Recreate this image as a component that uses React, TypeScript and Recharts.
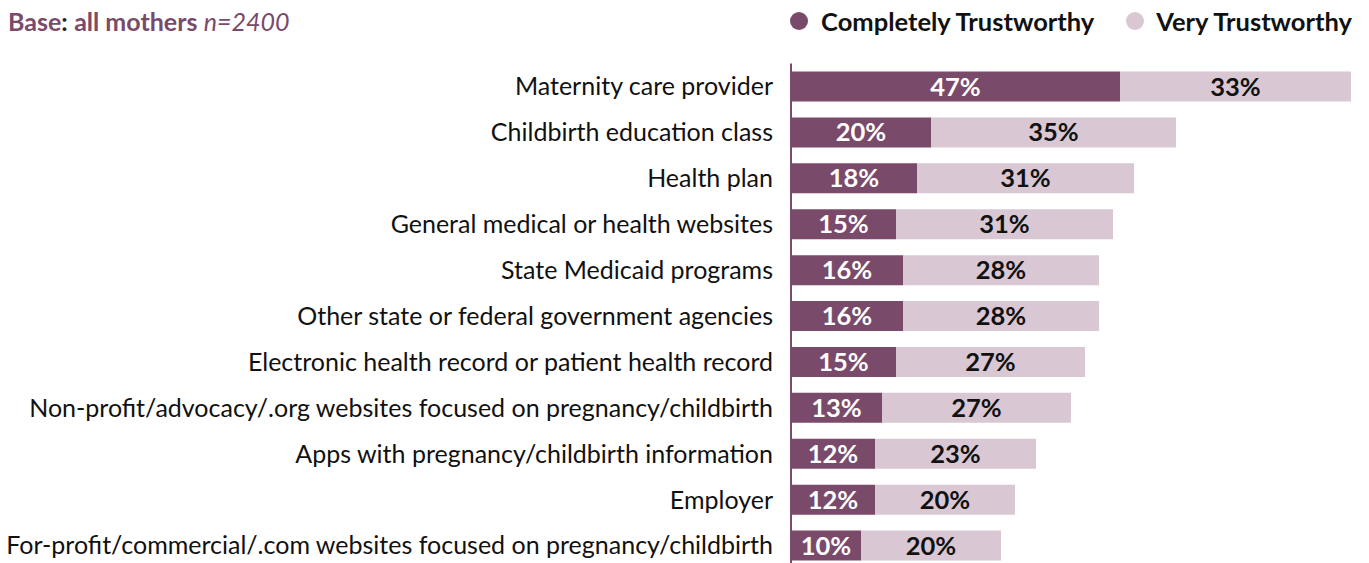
import { BarChart, Bar, XAxis, YAxis, LabelList } from 'recharts';

const sources = [
  'Maternity care provider',
  'Childbirth education class',
  'Health plan',
  'General medical or health websites',
  'State Medicaid programs',
  'Other state or federal government agencies',
  'Electronic health record or patient health record',
  'Non-profit/advocacy/.org websites focused on pregnancy/childbirth',
  'Apps with pregnancy/childbirth information',
  'Employer',
  'For-profit/commercial/.com websites focused on pregnancy/childbirth',
];
const completely = [47, 20, 18, 15, 16, 16, 15, 13, 12, 12, 10];
const very = [33, 35, 31, 31, 28, 28, 27, 27, 23, 20, 20];

const data = sources.map((source, i) => ({
  source,
  completely: completely[i],
  very: very[i],
}));

const DARK = '#7a4a6a';
const LIGHT = '#d9c8d3';
const FONT = "Lato, sans-serif";

const pct = (v: any) => `${v}%`;

export default function App() {
  return (
    <div
      style={{
        position: 'absolute',
        top: 0,
        left: 0,
        width: 1369,
        height: 563,
        overflow: 'hidden',
        background: '#fff',
        fontFamily: FONT,
      }}
    >
      <div
        style={{
          position: 'absolute',
          left: 8,
          top: 6,
          fontSize: 25,
          color: DARK,
          whiteSpace: 'nowrap',
        }}
      >
        <b>Base</b>
        <b style={{ color: '#222' }}>:</b> <b>all mothers</b> <i>n=2400</i>
      </div>
      <div
        style={{
          position: 'absolute',
          right: 17,
          top: 6,
          fontSize: 25.5,
          fontWeight: 'bold',
          color: '#111',
          display: 'flex',
          alignItems: 'center',
          whiteSpace: 'nowrap',
        }}
      >
        <span style={{ width: 18, height: 18, borderRadius: '50%', background: DARK, marginRight: 13 }} />
        <span style={{ marginRight: 32 }}>Completely Trustworthy</span>
        <span style={{ width: 18, height: 18, borderRadius: '50%', background: LIGHT, marginRight: 12 }} />
        <span>Very Trustworthy</span>
      </div>
      <BarChart
        width={1369}
        height={580}
        data={data}
        layout="vertical"
        margin={{ top: 63.5, right: 18, bottom: 11.5, left: 0 }}
        barCategoryGap={8}
      >
        <XAxis type="number" domain={[0, 80]} hide />
        <YAxis
          type="category"
          dataKey="source"
          width={791}
          tickLine={false}
          tickSize={0}
          tickMargin={18}
          axisLine={{ stroke: DARK, strokeWidth: 2 }}
          tick={{ fill: '#111', fontSize: 25, fontFamily: FONT }}
          interval={0}
        />
        <Bar dataKey="completely" stackId="a" fill={DARK} barSize={30} isAnimationActive={false}>
          <LabelList
            dataKey="completely"
            position="center"
            formatter={pct}
            fill="#fff"
            style={{ fontSize: 25.5, fontWeight: 'bold', fontFamily: FONT }}
          />
        </Bar>
        <Bar dataKey="very" stackId="a" fill={LIGHT} barSize={30} isAnimationActive={false}>
          <LabelList
            dataKey="very"
            position="center"
            formatter={pct}
            fill="#111"
            style={{ fontSize: 25.5, fontWeight: 'bold', fontFamily: FONT }}
          />
        </Bar>
      </BarChart>
    </div>
  );
}
